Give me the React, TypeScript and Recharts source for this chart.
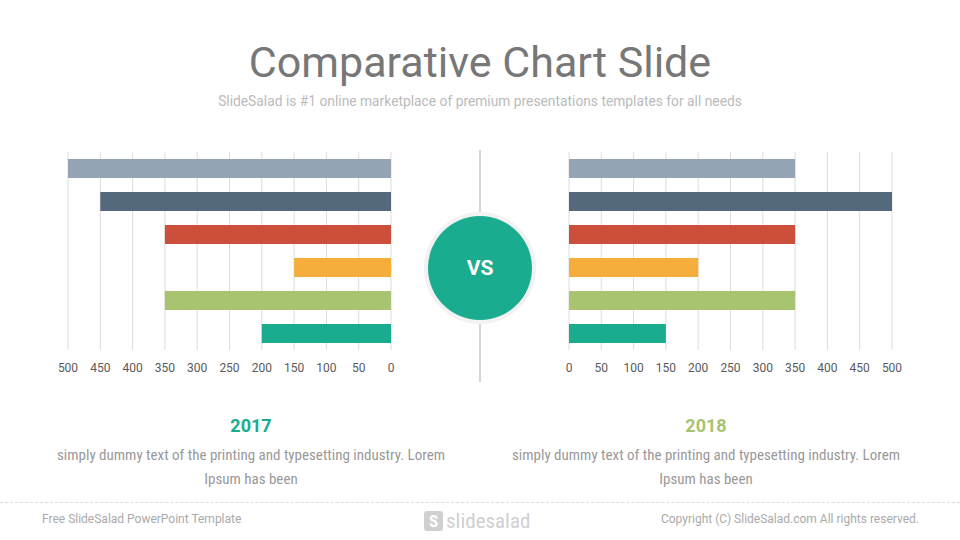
import { Bar, BarChart, CartesianGrid, Cell, XAxis, YAxis } from "recharts";

const categories = ["Item 1", "Item 2", "Item 3", "Item 4", "Item 5", "Item 6"];
const values2017 = [500, 450, 350, 150, 350, 200];
const values2018 = [350, 500, 350, 200, 350, 150];
const ticks = [0, 50, 100, 150, 200, 250, 300, 350, 400, 450, 500];

const COLORS = ["#94a4b5", "#55697c", "#cc4f3c", "#f5ae3b", "#a8c470", "#1aac8f"];

const FONT = "Roboto, 'Open Sans', sans-serif";
const NARROW = "'Liberation Sans Narrow', 'Roboto Condensed', Roboto, sans-serif";

const data2017 = categories.map((name, i) => ({ name, value: values2017[i] }));
const data2018 = categories.map((name, i) => ({ name, value: values2018[i] }));

function SideChart({ data, reversed }: { data: { name: string; value: number }[]; reversed: boolean }) {
  return (
    <BarChart
      width={363}
      height={240}
      data={data}
      layout="vertical"
      margin={{ top: 12, right: 20, bottom: 0, left: 20 }}
      barCategoryGap={0}
    >
      <CartesianGrid horizontal={false} stroke="#dcdcdc" />
      <XAxis
        type="number"
        domain={[0, 500]}
        ticks={ticks}
        reversed={reversed}
        axisLine={false}
        tickLine={false}
        tickMargin={7}
        height={30}
        interval={0}
        tick={{ fill: "#5a5a5a", fontSize: 12, fontFamily: FONT }}
      />
      <YAxis type="category" dataKey="name" hide />
      <Bar dataKey="value" barSize={19} isAnimationActive={false}>
        {data.map((_, idx) => (
          <Cell key={idx} fill={COLORS[idx % COLORS.length]} />
        ))}
      </Bar>
    </BarChart>
  );
}

export default function App() {
  return (
    <div
      style={{
        position: "absolute",
        left: 0,
        top: 0,
        width: 960,
        height: 540,
        background: "#fff",
        fontFamily: FONT,
        overflow: "hidden",
      }}
    >
      <div
        style={{
          position: "absolute",
          top: 36,
          width: 960,
          textAlign: "center",
          fontSize: 43,
          color: "#777",
          lineHeight: "52px",
        }}
      >
        Comparative Chart Slide
      </div>
      <div
        style={{
          position: "absolute",
          top: 92,
          width: 960,
          textAlign: "center",
          fontSize: 13.8,
          color: "#bbb",
          lineHeight: "18px",
        }}
      >
        SlideSalad is #1 online marketplace of premium presentations templates for all needs
      </div>

      <div style={{ position: "absolute", left: 48, top: 140 }}>
        <SideChart data={data2017} reversed={true} />
      </div>
      <div style={{ position: "absolute", left: 549, top: 140 }}>
        <SideChart data={data2018} reversed={false} />
      </div>

      {/* center divider */}
      <div style={{ position: "absolute", left: 479, top: 150, width: 2, height: 232, background: "#d6d6d6" }} />
      <div
        style={{
          position: "absolute",
          left: 424,
          top: 212,
          width: 112,
          height: 112,
          borderRadius: "50%",
          background: "#f2f2f2",
        }}
      />
      <div
        style={{
          position: "absolute",
          left: 428,
          top: 216,
          width: 104,
          height: 104,
          borderRadius: "50%",
          background: "#1aac8f",
          color: "#fff",
          fontWeight: 700,
          fontSize: 21,
          display: "flex",
          alignItems: "center",
          justifyContent: "center",
        }}
      >
        VS
      </div>

      {/* year captions */}
      <div style={{ position: "absolute", left: 51, top: 414, width: 400, textAlign: "center" }}>
        <div style={{ fontSize: 18, fontWeight: 700, color: "#1aac8f", lineHeight: "24px" }}>2017</div>
        <div style={{ fontFamily: NARROW, fontSize: 15, color: "#999", lineHeight: "24px", marginTop: 5 }}>
          simply dummy text of the printing and typesetting industry. Lorem
          <br />
          Ipsum has been
        </div>
      </div>
      <div style={{ position: "absolute", left: 506, top: 414, width: 400, textAlign: "center" }}>
        <div style={{ fontSize: 18, fontWeight: 700, color: "#a8c470", lineHeight: "24px" }}>2018</div>
        <div style={{ fontFamily: NARROW, fontSize: 15, color: "#999", lineHeight: "24px", marginTop: 5 }}>
          simply dummy text of the printing and typesetting industry. Lorem
          <br />
          Ipsum has been
        </div>
      </div>

      {/* footer */}
      <div style={{ position: "absolute", left: 0, top: 502, width: 960, borderTop: "1px dashed #ddd" }} />
      <div style={{ position: "absolute", left: 42, top: 512, fontSize: 12, color: "#aaa" }}>
        Free SlideSalad PowerPoint Template
      </div>
      <div
        style={{
          position: "absolute",
          left: 424,
          top: 509,
          display: "flex",
          alignItems: "center",
          gap: 3,
          color: "#d0d0d0",
          fontSize: 21,
          fontFamily: NARROW,
        }}
      >
        <span
          style={{
            display: "inline-block",
            width: 19,
            height: 20,
            borderRadius: 3,
            background: "#d0d0d0",
            color: "#fff",
            fontWeight: 700,
            fontSize: 17,
            textAlign: "center",
            lineHeight: "20px",
          }}
        >
          S
        </span>
        <span>slidesalad</span>
      </div>
      <div
        style={{
          position: "absolute",
          right: 41,
          top: 512,
          fontSize: 12,
          color: "#aaa",
        }}
      >
        Copyright (C) SlideSalad.com All rights reserved.
      </div>
    </div>
  );
}
